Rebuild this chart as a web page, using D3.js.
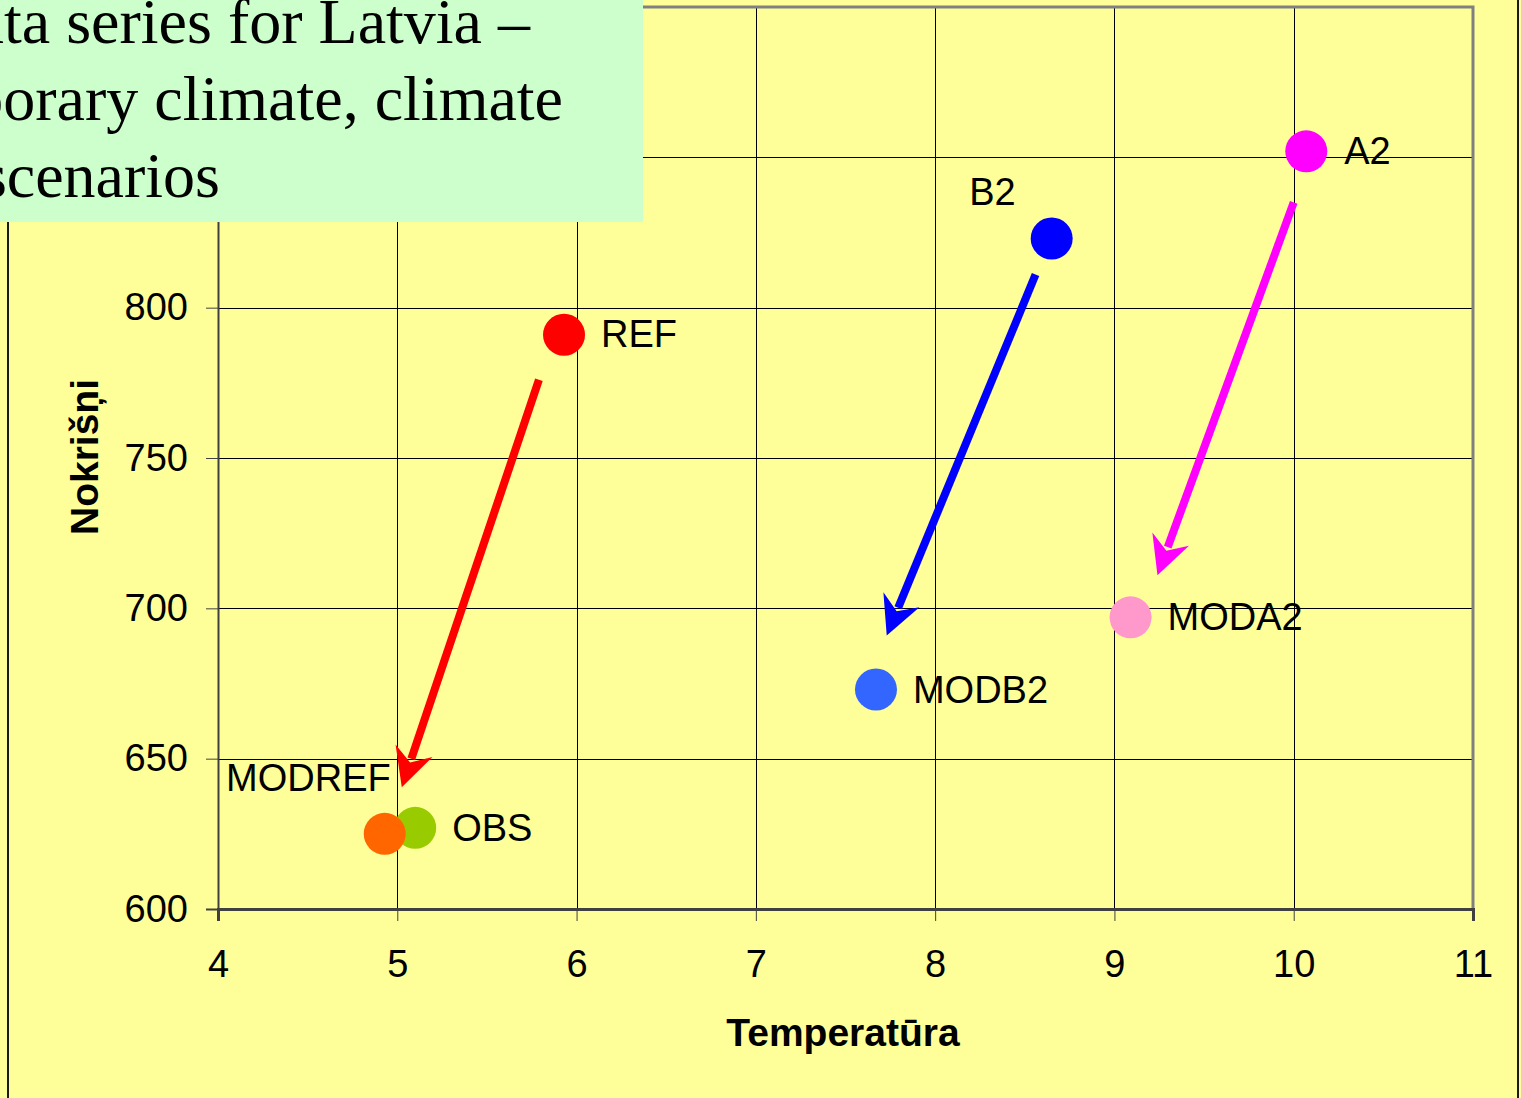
<!DOCTYPE html>
<html>
<head>
<meta charset="utf-8">
<script src="https://cdn.jsdelivr.net/npm/d3@7"></script>
<style>
  body { margin: 0; background: #ffff99; overflow: hidden; }
  svg { display: block; }
</style>
</head>
<body>
<svg id="chart" width="1521" height="1098"></svg>
<script>
const names = ['REF', 'B2', 'A2', 'MODB2', 'MODA2', 'OBS', 'MODREF'];
const temps = [5.93, 8.65, 10.07, 7.67, 9.09, 5.10, 4.93];
const precip = [791, 823, 852, 673, 697, 627, 625];
const colors = ['#ff0000', '#0000ff', '#ff00ff', '#3366ff', '#ff99cc', '#99cc00', '#ff6600'];

const arrowFromT = [5.79, 8.56, 10.0];
const arrowFromP = [776, 811, 835];
const arrowToT = [5.025, 7.73, 9.24];
const arrowToP = [640.5, 691, 711];
const arrowColors = ['#ff0000', '#0000ff', '#ff00ff'];

const xTicks = [4, 5, 6, 7, 8, 9, 10, 11];
const yTicks = [600, 650, 700, 750, 800, 850, 900];
const titleLines = ['Data series for Latvia –', 'contemporary climate, climate', 'scenarios'];

const plot = { left: 218, right: 1473, top: 7, bottom: 909 };
const svg = d3.select('#chart');

const x = d3.scaleLinear().domain([4, 11]).range([plot.left, plot.right]);
const y = d3.scaleLinear().domain([600, 900]).range([plot.bottom, plot.top]);

// outer chart frame
svg.append('rect')
  .attr('x', 8).attr('y', -10)
  .attr('width', 1510).attr('height', 1200)
  .attr('fill', '#ffff99')
  .attr('stroke', '#1a1a1a')
  .attr('stroke-width', 2);

// grid
svg.append('g')
  .attr('transform', `translate(0,${plot.bottom})`)
  .attr('shape-rendering', 'crispEdges')
  .call(d3.axisBottom(x).tickValues(xTicks).tickSize(-(plot.bottom - plot.top)).tickFormat(''))
  .call((g) => g.select('.domain').remove())
  .selectAll('line').attr('stroke', '#000').attr('stroke-width', 1);

svg.append('g')
  .attr('transform', `translate(${plot.left},0)`)
  .attr('shape-rendering', 'crispEdges')
  .call(d3.axisLeft(y).tickValues(yTicks).tickSize(-(plot.right - plot.left)).tickFormat(''))
  .call((g) => g.select('.domain').remove())
  .selectAll('line').attr('stroke', '#000').attr('stroke-width', 1);

// plot border (top / right)
svg.append('path')
  .attr('d', `M${plot.left},${plot.top}H${plot.right}V${plot.bottom}`)
  .attr('fill', 'none')
  .attr('stroke', '#808080')
  .attr('stroke-width', 3);

const tickFont = (g) => g.selectAll('text')
  .attr('font-family', '"Liberation Sans", Arial, sans-serif')
  .attr('font-size', 38)
  .attr('fill', '#000');

svg.append('g')
  .attr('transform', `translate(0,${plot.bottom})`)
  .call(d3.axisBottom(x).tickValues(xTicks).tickSize(12).tickPadding(29).tickFormat(d3.format('d')))
  .call((g) => g.select('.domain').attr('stroke', '#404040').attr('stroke-width', 3))
  .call((g) => g.selectAll('line').attr('stroke', '#404040'))
  .call(tickFont);

svg.append('g')
  .attr('transform', `translate(${plot.left},0)`)
  .call(d3.axisLeft(y).tickValues(yTicks.slice(0, 5)).tickSize(12).tickPadding(18).tickFormat(d3.format('d')))
  .call((g) => g.select('.domain').attr('stroke', '#404040').attr('stroke-width', 2))
  .call((g) => g.selectAll('line').attr('stroke', '#404040'))
  .call(tickFont);

// axis titles
svg.append('text')
  .attr('x', 843).attr('y', 1046)
  .attr('text-anchor', 'middle')
  .attr('font-family', '"Liberation Sans", Arial, sans-serif')
  .attr('font-weight', 'bold')
  .attr('font-size', 39)
  .text('Temperatūra');

svg.append('text')
  .attr('transform', 'translate(98,457) rotate(-90)')
  .attr('text-anchor', 'middle')
  .attr('font-family', '"Liberation Sans", Arial, sans-serif')
  .attr('font-weight', 'bold')
  .attr('font-size', 39)
  .text('Nokrišņi');

// points
const points = names.map((n, i) => ({ name: n, t: temps[i], p: precip[i], color: colors[i] }));

svg.append('g')
  .selectAll('circle')
  .data(points)
  .join('circle')
  .attr('cx', (d) => x(d.t))
  .attr('cy', (d) => y(d.p))
  .attr('r', 21)
  .attr('fill', (d) => d.color);

const labelPos = {
  REF: { dx: 37, dy: 12, anchor: 'start' },
  B2: { dx: -36, dy: -34, anchor: 'end' },
  A2: { dx: 38, dy: 13, anchor: 'start' },
  MODB2: { dx: 37, dy: 13, anchor: 'start' },
  MODA2: { dx: 37, dy: 13, anchor: 'start' },
  OBS: { dx: 37, dy: 13, anchor: 'start' },
  MODREF: { dx: 6, dy: -43, anchor: 'end' },
};

svg.append('g')
  .selectAll('text')
  .data(points)
  .join('text')
  .attr('x', (d) => x(d.t) + labelPos[d.name].dx)
  .attr('y', (d) => y(d.p) + labelPos[d.name].dy)
  .attr('text-anchor', (d) => labelPos[d.name].anchor)
  .attr('font-family', '"Liberation Sans", Arial, sans-serif')
  .attr('font-size', 38)
  .attr('fill', '#000')
  .text((d) => d.name);

// arrows
const arrows = arrowColors.map((c, i) => {
  const x0 = x(arrowFromT[i]);
  const y0 = y(arrowFromP[i]);
  const x1 = x(arrowToT[i]);
  const y1 = y(arrowToP[i]);
  const len = Math.hypot(x1 - x0, y1 - y0);
  const ux = (x1 - x0) / len;
  const uy = (y1 - y0) / len;
  return { c, x0, y0, x1, y1, ux, uy };
});

const ag = svg.append('g');
arrows.forEach((a) => {
  const back = 38.5;
  const half = 19.5;
  const notch = 26;
  const nx = -a.uy;
  const ny = a.ux;
  ag.append('line')
    .attr('x1', a.x0).attr('y1', a.y0)
    .attr('x2', a.x1 - a.ux * (notch + 4)).attr('y2', a.y1 - a.uy * (notch + 4))
    .attr('stroke', a.c)
    .attr('stroke-width', 8);
  const head = [
    [a.x1, a.y1],
    [a.x1 - a.ux * back + nx * half, a.y1 - a.uy * back + ny * half],
    [a.x1 - a.ux * notch, a.y1 - a.uy * notch],
    [a.x1 - a.ux * back - nx * half, a.y1 - a.uy * back - ny * half],
  ];
  ag.append('path')
    .attr('d', d3.line()(head) + 'Z')
    .attr('fill', a.c);
});

// title box (text runs off the left edge, as in the original slide)
svg.append('rect')
  .attr('x', 0).attr('y', 0)
  .attr('width', 643).attr('height', 222)
  .attr('fill', '#ccffcc');

const titleEnds = [530, 563, 220];
svg.append('g')
  .selectAll('text')
  .data(titleLines)
  .join('text')
  .attr('x', (d, i) => titleEnds[i])
  .attr('y', (d, i) => 43 + i * 77)
  .attr('text-anchor', 'end')
  .attr('font-family', '"Liberation Serif", "Times New Roman", serif')
  .attr('font-size', 64)
  .attr('fill', '#000')
  .text((d) => d);
</script>
</body>
</html>
